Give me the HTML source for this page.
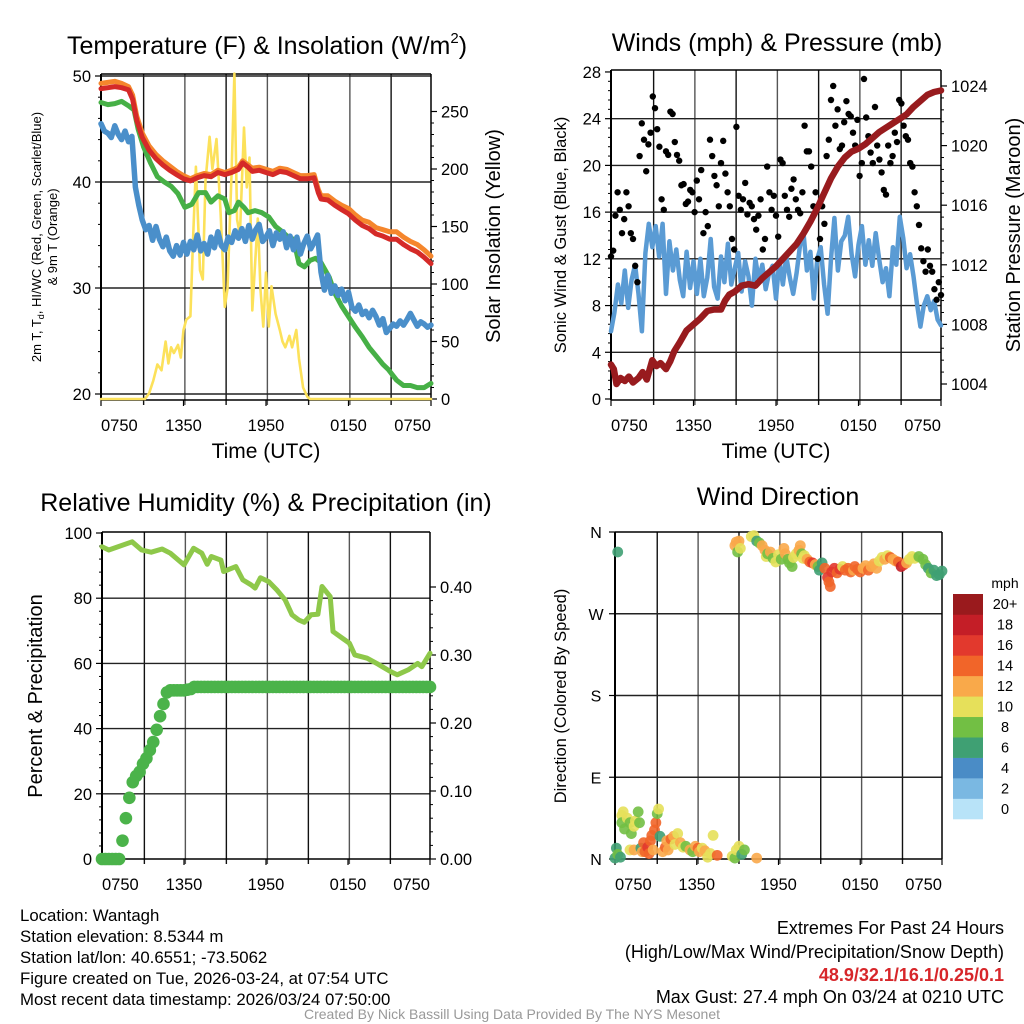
<!DOCTYPE html>
<html><head><meta charset="utf-8"><title>Wantagh Meteogram</title>
<style>
html,body{margin:0;padding:0;background:#fff;}
svg{display:block;font-family:"Liberation Sans",Arial,sans-serif;}
</style></head>
<body>
<svg id="chart" width="1024" height="1024" viewBox="0 0 1024 1024" xmlns="http://www.w3.org/2000/svg">
<rect width="1024" height="1024" fill="#fff"/>
<g id="layer"></g>
<text x="267" y="54" font-size="25" text-anchor="middle">Temperature (F) &amp; Insolation (W/m<tspan font-size="15" dy="-11">2</tspan><tspan dy="11">)</tspan></text>
<text x="777" y="51" font-size="25" text-anchor="middle">Winds (mph) &amp; Pressure (mb)</text>
<text x="266" y="511" font-size="25" text-anchor="middle">Relative Humidity (%) &amp; Precipitation (in)</text>
<text x="778" y="505" font-size="25" text-anchor="middle">Wind Direction</text>

<text x="266" y="458" font-size="21" text-anchor="middle">Time (UTC)</text>
<text x="776" y="458" font-size="21" text-anchor="middle">Time (UTC)</text>

<text transform="translate(41,237) rotate(-90)" font-size="13" text-anchor="middle">2m T, T<tspan font-size="9" dy="3">d</tspan><tspan dy="-3">, HI/WC (Red, Green, Scarlet/Blue)</tspan></text>
<text transform="translate(57,237) rotate(-90)" font-size="13" text-anchor="middle">&amp; 9m T (Orange)</text>
<text transform="translate(500,236) rotate(-90)" font-size="20" text-anchor="middle">Solar Insolation (Yellow)</text>
<text transform="translate(566,235) rotate(-90)" font-size="16.5" text-anchor="middle">Sonic Wind &amp; Gust (Blue, Black)</text>
<text transform="translate(1020,235) rotate(-90)" font-size="20" text-anchor="middle">Station Pressure (Maroon)</text>
<text transform="translate(42,696) rotate(-90)" font-size="20" text-anchor="middle">Percent &amp; Precipitation</text>
<text transform="translate(566,696) rotate(-90)" font-size="16.5" text-anchor="middle">Direction (Colored By Speed)</text>

<g font-size="16.8">
<text x="20" y="921">Location: Wantagh</text>
<text x="20" y="942">Station elevation: 8.5344 m</text>
<text x="20" y="963">Station lat/lon: 40.6551; -73.5062</text>
<text x="20" y="984">Figure created on Tue, 2026-03-24, at 07:54 UTC</text>
<text x="20" y="1005">Most recent data timestamp: 2026/03/24 07:50:00</text>
</g>
<g font-size="18" text-anchor="end">
<text x="1004" y="934">Extremes For Past 24 Hours</text>
<text x="1004" y="958">(High/Low/Max Wind/Precipitation/Snow Depth)</text>
<text x="1004" y="981" fill="#d7262a" font-weight="bold">48.9/32.1/16.1/0.25/0.1</text>
<text x="1004" y="1003">Max Gust: 27.4 mph On 03/24 at 0210 UTC</text>
</g>
<text x="512" y="1019" font-size="14" fill="#999" text-anchor="middle">Created By Nick Bassill Using Data Provided By The NYS Mesonet</text>
</svg>
<script>
// ---------- DATA ----------
const xTickLabels = ["0750","1350","1950","0150","0750"];
const tempTicks = [20,30,40,50];
const solarTicks = [0,50,100,150,200,250];
const windTicks = [0,4,8,12,16,20,24,28];
const presTicks = [1004,1008,1012,1016,1020,1024];
const rhTicks = [0,20,40,60,80,100];
const precipTicks = ["0.00","0.10","0.20","0.30","0.40"];
const dirLabels = ["N","E","S","W","N"];
const speedBins = ["0","2","4","6","8","10","12","14","16","18","20+"];

const tHours = [0,0.5,1,1.5,2,2.3,2.6,3,3.5,4,4.5,5,5.5,6,6.5,7,7.5,8,8.5,9,9.5,10,10.3,10.7,11,11.5,12,12.5,13,13.5,14,14.5,15,15.5,15.8,16,16.5,17,17.5,18,18.5,19,19.5,20,20.5,21,21.5,22,22.5,23,23.5,24];
const temp2m = [48.8,48.9,49.0,48.9,48.7,47.8,45.8,44.2,43.0,42.2,41.6,41.1,40.7,40.3,40.1,40.4,40.6,40.5,40.9,40.7,40.9,41.2,41.8,41.4,41.0,41.1,40.9,40.7,41.0,40.9,40.6,40.3,40.3,40.4,39.0,38.4,38.3,37.8,37.4,37.0,36.4,35.9,35.6,35.1,34.9,34.6,34.6,34.1,33.7,33.4,32.9,32.3];
const temp9m = [49.3,49.4,49.5,49.3,49.0,48.2,46.2,44.6,43.4,42.6,42.0,41.5,41.0,40.6,40.3,40.6,40.8,40.7,41.1,40.9,41.1,41.4,42.0,41.6,41.3,41.4,41.2,41.0,41.3,41.2,40.9,40.6,40.6,40.7,39.3,38.7,38.7,38.2,37.8,37.5,36.9,36.4,36.2,35.7,35.5,35.3,35.3,34.8,34.4,34.1,33.6,33.0];
const tdHours = [0,0.5,1,1.5,2,2.4,2.7,3.1,3.6,4.1,4.6,5.1,5.6,6.1,6.6,7.1,7.6,8,8.5,9,9.3,9.7,10,10.4,10.7,11.2,11.7,12.2,12.7,13.2,13.6,14,14.4,14.8,15.2,15.6,16,16.6,17,17.5,18,18.5,19,19.5,20,20.5,20.9,21.5,22,22.5,23,23.5,24];
const dewpoint = [47.5,47.3,47.4,47.6,47.2,46.8,45.0,43.3,41.8,40.5,40.0,39.6,38.9,37.6,37.9,39.0,39.0,38.1,38.7,38.4,37.1,37.3,38.1,37.6,37.1,37.3,37.1,36.7,35.8,35.3,34.8,34.6,32.3,32.0,32.6,32.8,32.4,31.0,29.5,28.3,27.3,26.3,25.4,24.4,23.6,22.8,22.3,21.3,20.8,20.8,20.6,20.6,21.0];
const windChill = [45.5,44.8,44.6,44.2,45.3,44.5,44.0,44.8,43.8,44.3,39.5,37.8,36.4,35.5,35.9,34.5,35.8,34.6,33.9,34.8,33.5,33.0,34.0,33.1,34.3,33.2,34.4,33.6,35.0,33.5,34.2,33.2,34.8,33.8,35.3,34.0,33.6,34.8,34.3,35.4,34.7,35.6,34.4,35.9,34.6,35.5,36.0,34.4,34.8,35.4,34.0,35.2,34.6,35.3,33.8,34.9,33.6,34.8,33.2,34.2,34.9,33.7,34.3,35.0,31.5,29.8,31.2,29.5,30.2,29.3,29.9,28.8,29.6,28.2,27.8,28.4,27.5,27.8,27.2,27.9,27.3,26.5,27.1,25.8,26.2,26.6,26.4,26.9,26.5,27.0,27.6,27.0,26.4,26.8,26.6,26.3,26.5];
const solarHours = [0,3.2,3.5,3.8,4.1,4.4,4.7,4.9,5.1,5.3,5.6,5.8,6.0,6.2,6.5,6.7,6.9,7.2,7.4,7.6,7.9,8.1,8.4,8.7,9.0,9.2,9.5,9.7,9.9,10.1,10.4,10.6,10.8,11.0,11.4,11.6,11.8,12.0,12.2,12.4,12.7,13.0,13.2,13.4,13.7,13.9,14.2,14.4,14.7,15.0,15.2,24];
const solar = [0,0,5,16,30,25,50,31,45,40,47,36,60,69,72,140,202,112,104,190,228,200,226,162,80,96,197,283,156,143,236,184,210,77,157,95,63,110,63,98,74,60,50,45,55,45,60,35,10,2,0,0];

const windSpeed = [5.8,7.4,9.8,8.2,11.0,7.8,10.2,11.5,9.0,5.8,12.5,15.0,13.0,14.8,12.2,15.0,9.0,13.5,11.0,12.8,10.2,8.8,12.6,9.5,11.8,9.0,12.0,8.8,10.4,13.7,9.6,8.6,12.2,10.0,13.3,9.8,11.2,12.5,9.2,11.8,10.5,8.0,12.0,10.1,11.5,9.4,10.8,11.4,8.6,11.9,9.8,12.2,10.4,9.0,10.8,13.2,14.2,11.0,12.6,8.6,12.0,13.0,9.8,7.3,12.0,15.5,11.0,13.5,14.0,15.6,12.4,10.5,13.2,14.8,11.5,13.6,11.4,14.2,12.0,10.0,11.2,8.8,13.0,11.5,15.6,13.8,11.2,12.4,10.5,8.2,6.2,8.0,8.8,7.6,8.4,6.8,6.3];
const gusts = [12.2,12.7,15.7,17.7,16.2,14.2,15.4,17.7,16.5,14.2,13.7,11.4,10.0,20.8,23.6,22.2,19.5,21.8,22.8,25.9,24.9,23.1,21.6,17.1,16.2,21.2,20.9,24.6,24.4,22.0,20.9,20.4,18.3,18.4,16.7,16.9,17.9,17.7,16.0,18.7,17.1,19.6,14.2,16.0,14.8,22.2,20.8,19.1,18.3,16.5,20.2,22.1,19.3,17.7,16.5,13.7,12.8,23.3,17.4,16.2,17.1,18.5,15.8,16.8,16.5,15.4,14.5,15.7,17.1,12.8,13.7,19.9,17.7,16.2,17.4,15.7,13.9,20.5,20.2,17.4,16.2,15.6,18.0,18.8,17.1,16.2,15.9,17.7,23.4,21.2,21.2,19.9,16.5,17.7,12.0,13.7,16.5,15.0,20.8,22.2,25.6,26.8,23.4,24.8,21.4,21.7,23.7,25.5,24.4,24.2,22.8,21.7,23.9,19.1,20.2,27.4,24.1,22.5,21.1,20.2,25.0,21.7,20.5,19.4,17.9,17.5,21.7,20.2,20.8,22.8,22.0,25.6,25.3,23.4,22.5,22.2,20.2,19.9,17.7,16.5,14.9,12.9,11.8,10.9,12.8,11.4,10.9,9.4,8.5,10.0,8.9];
const presHours = [0,0.2,0.4,0.7,1,1.3,1.6,2,2.3,2.6,3,3.3,3.6,4,4.3,4.6,5,5.5,6,6.5,7,7.5,8,8.3,8.6,9,9.5,10,10.5,11,11.5,12,12.5,13,13.5,14,14.5,15,15.5,16,16.5,17,17.5,18,18.5,19,19.5,20,20.5,21,21.5,22,22.5,23,23.5,24];
const pressure = [1005.3,1005.0,1004.0,1004.4,1004.2,1004.5,1004.1,1004.4,1004.8,1004.3,1005.6,1005.2,1005.4,1005.0,1005.5,1006.2,1006.8,1007.6,1008.0,1008.4,1008.9,1009.0,1009.0,1009.6,1010.0,1010.2,1010.6,1010.7,1010.6,1011.1,1011.5,1011.9,1012.4,1012.9,1013.4,1014.1,1014.9,1015.8,1016.8,1017.8,1018.6,1019.2,1019.6,1019.8,1020.1,1020.5,1020.9,1021.2,1021.5,1021.8,1022.1,1022.6,1023.0,1023.4,1023.6,1023.7];

const rhHours = [0,0.5,2.2,2.9,3.6,4.4,5,6,6.7,7.3,7.7,8,8.7,8.9,9.8,10.3,10.9,11.2,11.6,12.2,12.8,13.4,13.9,14.4,14.8,15.3,15.8,16.1,16.7,16.9,17.6,18.1,18.5,19.4,20.1,21.1,21.6,22.4,23.1,23.4,24];
const rh = [95.8,94.8,97.3,94.8,94.1,95.1,93.8,90.2,95.3,93.8,90.4,92.8,91.7,88.2,89.7,85.6,84.1,83.1,86.3,85.1,82.5,79.5,74.9,73.3,72.6,74.9,75.1,83.6,80.5,69.8,67.7,66.2,62.6,61.6,60.0,57.5,56.5,58.0,60.0,59.0,63.1];
const precip = [0,0,0,0,0,0,0.027,0.06,0.09,0.113,0.122,0.128,0.14,0.148,0.16,0.172,0.19,0.21,0.228,0.245,0.248,0.248,0.248,0.248,0.248,0.249,0.25,0.253,0.253,0.253,0.253,0.253,0.253,0.253,0.253,0.253,0.253,0.253,0.253,0.253,0.253,0.253,0.253,0.253,0.253,0.253,0.253,0.253,0.253,0.253,0.253,0.253,0.253,0.253,0.253,0.253,0.253,0.253,0.253,0.253,0.253,0.253,0.253,0.253,0.253,0.253,0.253,0.253,0.253,0.253,0.253,0.253,0.253,0.253,0.253,0.253,0.253,0.253,0.253,0.253,0.253,0.253,0.253,0.253,0.253,0.253,0.253,0.253,0.253,0.253,0.253,0.253,0.253,0.253,0.253,0.253,0.253];

const dirHours = [0.2,8.8,8.9,9.0,9.1,9.2,10.0,10.2,10.4,10.6,10.8,11.0,11.1,11.2,11.4,11.6,11.8,12.0,12.2,12.4,12.5,12.7,12.8,13.0,13.1,13.3,13.5,13.6,13.7,13.8,13.9,14.1,14.3,14.5,14.7,14.9,15.0,15.2,15.4,15.6,15.7,15.8,15.9,16.1,16.3,16.5,16.7,16.9,17.1,17.3,17.5,17.6,17.8,18.0,18.2,18.4,18.6,18.8,19.0,19.2,19.4,19.6,19.8,20.0,20.2,20.4,20.6,20.8,21.0,21.2,21.4,21.6,21.8,22.0,22.3,22.6,22.8,23.0,23.2,23.4,23.6,23.8,24.0,
 0.0,0.1,0.2,0.5,0.6,0.5,0.7,0.9,1.1,1.2,1.4,1.5,1.7,1.8,1.1,1.4,1.9,2.0,2.1,2.2,2.4,2.5,2.6,2.8,2.7,2.9,3.0,3.1,3.2,3.3,3.5,3.7,3.8,3.9,4.1,4.3,4.4,4.6,4.8,5.0,5.2,5.5,5.7,5.9,6.1,6.2,6.4,6.6,6.8,7.0,7.2,7.5,8.6,8.8,8.9,9.1,9.3,9.5,10.4,0.4];
const dirDeg = [338,345,349,338,350,342,355,356,350,348,345,340,333,336,338,331,327,335,330,342,336,330,326,322,332,336,340,345,336,331,334,330,327,326,324,322,318,326,320,310,305,300,316,320,315,319,322,318,320,316,318,322,319,316,320,323,318,322,325,320,328,332,330,334,332,330,328,327,322,324,326,330,333,331,333,330,324,320,315,318,312,313,317,
 1,12,5,48,52,40,33,45,40,28,36,42,52,40,10,10,12,8,18,8,13,6,20,10,26,32,40,50,55,25,8,13,20,10,22,25,16,28,18,13,14,10,8,14,12,8,12,9,2,6,26,4,3,1,10,14,5,10,1,2];
const dirSpeed = [6,12,12,8,12,10,10,10,6,8,12,12,10,8,12,8,10,10,8,12,12,8,8,8,10,10,12,12,8,10,10,12,14,16,12,8,6,6,14,16,14,14,16,16,14,16,10,14,14,14,12,14,14,14,12,12,14,12,12,12,10,10,12,10,14,12,12,14,18,16,12,10,10,10,8,8,8,6,8,6,6,6,6,
 6,6,8,10,10,8,8,10,8,8,10,10,8,8,10,12,6,12,14,14,16,14,14,12,14,14,14,8,10,6,12,14,12,12,14,12,10,10,12,10,8,12,8,12,14,12,10,12,10,10,10,14,10,8,10,10,6,8,12,6];
const speedColors = ["#b8e3f8","#7ab8e2","#4a8cc6","#3fa073","#72bf44","#e6e05a","#f9a94a","#f16529","#e2392d","#c41e27","#9a1a1d"];

// ---------- AXES ----------
const P1 = {l:101,r:431,t:74,b:400};
const P2 = {l:611,r:941,t:70,b:400};
const P3 = {l:102,r:430,t:532,b:859};
const P4 = {l:615,r:942,t:532,b:859};
const hx = (P, h) => P.l + h * (P.r - P.l) / 24;
const yTemp = v => 394 - (v - 20) * 10.6;
const ySolar = v => 399 - v * 1.15;
const yWind = v => 399 - v * 11.68;
const yPres = v => 384 - (v - 1004) * 14.9;
const yRH = v => 859 - v * 3.26;
const yPrecip = v => 859 - v * 680;
const yDir = v => 859 - v * 327 / 360;

const NS = "http://www.w3.org/2000/svg";
const layer = document.getElementById("layer");
function mk(tag, attrs, parent) {
  const e = document.createElementNS(NS, tag);
  for (const k in attrs) e.setAttribute(k, attrs[k]);
  (parent || layer).appendChild(e);
  return e;
}
function group(name) {
  const g = mk("g", {});
  
  
  return g;
}
function polyline(P, hours, vals, yf, color, w, name, parent) {
  const pts = [];
  const n = Math.min(hours.length, vals.length);
  for (let i = 0; i < n; i++) pts.push(hx(P, hours[i]).toFixed(1) + "," + yf(vals[i]).toFixed(1));
  const pl = mk("polyline", {points: pts.join(" "), fill: "none", stroke: color, "stroke-width": w, "stroke-linejoin": "round", "stroke-linecap": "round"}, parent);
  
  
  return pl;
}
const gridHours = [3.1,6.1,9.1,12.1,15.1,18.1,21.1];

function frame(P, name, hLines) {
  const g = group(name + "-grid");
  gridHours.forEach((h, i) => {
    const x = hx(P, h);
    mk("line", {x1:x, x2:x, y1:P.t, y2:P.b + 5, stroke: i % 2 ? "#555" : "#111", "stroke-width": 1.4}, g);
  });
  hLines.forEach(y => mk("line", {x1:P.l, x2:P.r, y1:y, y2:y, stroke:"#222", "stroke-width":1.4}, g));
  const f = group(name + "-frame");
  mk("line", {x1:P.l, x2:P.r, y1:P.t, y2:P.t, stroke:"#000", "stroke-width":1.5}, f);
  mk("line", {x1:P.l, x2:P.r, y1:P.b, y2:P.b, stroke:"#000", "stroke-width":1.5}, f);
  mk("line", {x1:P.l, x2:P.l, y1:P.t, y2:P.b, stroke:"#000", "stroke-width":2}, f);
  mk("line", {x1:P.r, x2:P.r, y1:P.t, y2:P.b, stroke:"#000", "stroke-width":1.5}, f);
  const lg = group(name + "-x-tick-labels");
  xTickLabels.forEach((lab, i) => {
    const x = hx(P, i * 6);
    mk("line", {x1:x, x2:x, y1:P.b, y2:P.b + 6, stroke:"#000", "stroke-width":1.2}, lg);
    const t = mk("text", {x: x, y: P.b + 31, "font-size":16.5, "text-anchor": i === 0 ? "start" : (i === 4 ? "end" : "middle")}, lg);
    t.textContent = lab;
    
    
  });
}
function yTicks(x, vals, yf, side, labels, name, minorStep) {
  const g = group(name);
  vals.forEach((v, i) => {
    const y = yf(v);
    mk("line", {x1:x, x2:x + (side === "left" ? -6 : 6), y1:y, y2:y, stroke:"#000", "stroke-width":1.2}, g);
    const t = mk("text", {x: side === "left" ? x - 10 : x + 10, y: y + 6, "font-size":16.5, "text-anchor": side === "left" ? "end" : "start"}, g);
    t.textContent = labels ? labels[i] : v;
    
    
    if (minorStep && i < vals.length - 1) {
      for (let m = 1; m < 5; m++) {
        const ym = yf(v + (vals[i+1] - v) * m / 5);
        mk("line", {x1:x, x2:x + (side === "left" ? -3 : 3), y1:ym, y2:ym, stroke:"#000", "stroke-width":1}, g);
      }
    }
  });
}

// ---- Panel 1 ----
frame(P1, "temp", tempTicks.map(yTemp));
yTicks(P1.l, tempTicks, yTemp, "left", null, "temp-y-ticks", true);
yTicks(P1.r, solarTicks, ySolar, "right", null, "solar-y-ticks", true);
{
  const g = group("temp-series");
  polyline(P1, solarHours, solar, ySolar, "#fce15a", 2.6, "solar-insolation-line", g);
  polyline(P1, tdHours, dewpoint, yTemp, "#46b046", 5, "dewpoint-line", g);
  polyline(P1, windChill.map((_, i) => i * 0.25), windChill, yTemp, "#4a8fca", 5.5, "wind-chill-line", g);
  polyline(P1, tHours, temp9m, yTemp, "#f5862c", 5, "temp-9m-line", g);
  polyline(P1, tHours, temp2m, yTemp, "#d52a28", 5, "temp-2m-line", g);
}

// ---- Panel 2 ----
frame(P2, "wind", windTicks.slice(1, 7).map(yWind));
yTicks(P2.l, windTicks, yWind, "left", null, "wind-y-ticks", true);
yTicks(P2.r, presTicks, yPres, "right", null, "pressure-y-ticks", true);
{
  const g = group("wind-series");
  polyline(P2, windSpeed.map((_, i) => i * 0.25), windSpeed, yWind, "#5a9bd4", 4.5, "sonic-wind-line", g);
  gusts.forEach((v, i) => {
    const c = mk("circle", {cx: hx(P2, i * 24 / (gusts.length - 1)), cy: yWind(v), r: 3.2, fill: "#000"}, g);
    
    
  });
  polyline(P2, presHours, pressure, yPres, "#981b1e", 6.5, "pressure-line", g);
}

// ---- Panel 3 ----
frame(P3, "rh", [20,40,60,80].map(yRH));
yTicks(P3.l, rhTicks, yRH, "left", null, "rh-y-ticks", true);
yTicks(P3.r, precipTicks.map(Number), yPrecip, "right", precipTicks, "precip-y-ticks", true);
{
  const g = group("rh-series");
  polyline(P3, rhHours, rh, yRH, "#8ec84a", 5, "rh-line", g);
  precip.forEach((v, i) => {
    const c = mk("circle", {cx: hx(P3, i * 0.25), cy: yPrecip(v), r: 6.3, fill: "#4bb34a"}, g);
    
    
  });
}

// ---- Panel 4 ----
frame(P4, "dir", [90,180,270].map(yDir));
{
  const g = group("dir-y-ticks");
  [0,90,180,270,360].forEach((d, i) => {
    const y = yDir(d);
    mk("line", {x1:P4.l, x2:P4.l - 6, y1:y, y2:y, stroke:"#000", "stroke-width":1.2}, g);
    const t = mk("text", {x: P4.l - 19, y: y + 6, "font-size":16, "text-anchor":"middle"}, g);
    t.textContent = dirLabels[i];
    
    
  });
  const s = group("dir-series");
  const n = Math.min(dirHours.length, dirDeg.length, dirSpeed.length);
  for (let i = 0; i < n; i++) {
    const bin = Math.min(10, Math.max(0, Math.floor(dirSpeed[i] / 2)));
    const c = mk("circle", {cx: hx(P4, dirHours[i]), cy: yDir(dirDeg[i]), r: 5.4, fill: speedColors[bin], "fill-opacity": 0.9}, s);
    
    
  }
  const cb = group("speed-colorbar");
  const t0 = mk("text", {x: 1005, y: 588, "font-size":14, "text-anchor":"middle"}, cb);
  t0.textContent = "mph";
  
  
  const top = 594, h = 225 / 11;
  for (let i = 0; i < 11; i++) {
    const y = top + (10 - i) * h;
    const r = mk("rect", {x: 953, y: y, width: 30, height: h + 0.3, fill: speedColors[i]}, cb);
    
    
    const t = mk("text", {x: 1005, y: y + h / 2 + 5, "font-size":14.5, "text-anchor":"middle"}, cb);
    t.textContent = speedBins[i];
    
    
  }
}
</script>
</body></html>
